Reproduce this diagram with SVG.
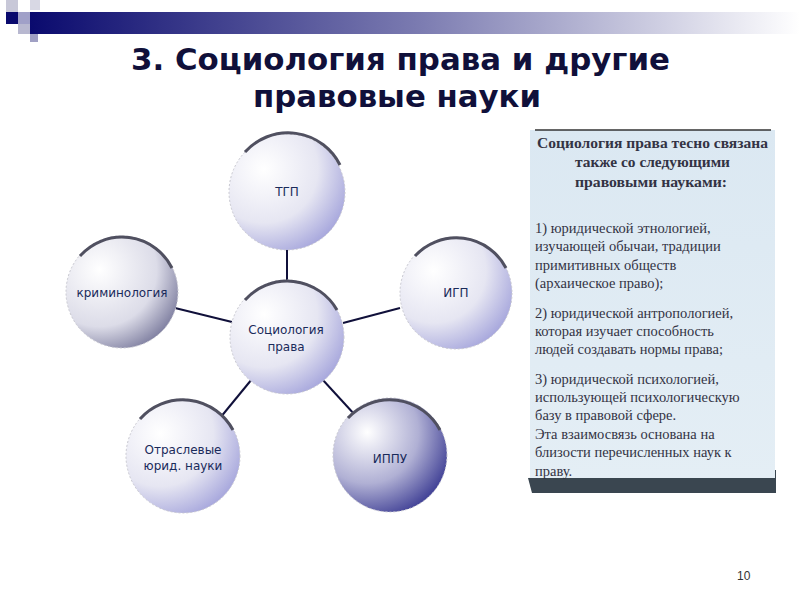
<svg xmlns="http://www.w3.org/2000/svg" width="800" height="600" viewBox="0 0 800 600">
<defs>
<linearGradient id="bar" x1="0" x2="1" y1="0" y2="0"><stop offset="0" stop-color="#0a0a6e"/><stop offset="0.5" stop-color="#7a7ab0"/><stop offset="1" stop-color="#ffffff"/></linearGradient>
<radialGradient id="ball" cx="0.3" cy="0.3" r="0.85"><stop offset="0" stop-color="#ffffff"/><stop offset="0.55" stop-color="#e6e6f2"/><stop offset="1" stop-color="#9a9ad8"/></radialGradient>
<radialGradient id="ballDark" cx="0.3" cy="0.3" r="0.9"><stop offset="0" stop-color="#ffffff"/><stop offset="0.5" stop-color="#b0b0d4"/><stop offset="1" stop-color="#1a1a80"/></radialGradient>
<radialGradient id="ballGrey" cx="0.3" cy="0.3" r="0.85"><stop offset="0" stop-color="#ffffff"/><stop offset="0.6" stop-color="#dcdce8"/><stop offset="1" stop-color="#6a6a90"/></radialGradient>
<linearGradient id="paper" x1="0" y1="0" x2="0" y2="1"><stop offset="0" stop-color="#dbe8f2"/><stop offset="1" stop-color="#e4eef5"/></linearGradient>
</defs>
<style>
.ball{stroke:#c8c8d0;stroke-width:1;stroke-dasharray:2 2}
.rim{fill:none;stroke:#505060;stroke-width:3}
.lbl{font-family:"DejaVu Sans",sans-serif;font-size:12px;fill:#1a2a5a;text-anchor:middle}
.conn line{stroke:#10103a;stroke-width:2}
.tx{font-family:"Liberation Serif",serif;font-size:14.5px;fill:#333344}
.ttl{font-family:"DejaVu Sans",sans-serif;font-weight:bold;font-size:30px;fill:#10103a}
</style>
<rect width="800" height="600" fill="#fff"/>
<rect x="30" y="12" width="770" height="22" fill="url(#bar)"/>
<rect x="6" y="0" width="12" height="12" fill="#c8c8d8"/>
<rect x="30" y="0" width="10" height="10" fill="#d8d8e4"/>
<rect x="6" y="12" width="12" height="12" fill="#0a0a6e"/>
<rect x="18" y="12" width="12" height="12" fill="#a0a0c8"/>
<rect x="18" y="24" width="12" height="10" fill="#b8b8d0"/>
<rect x="30" y="34" width="8" height="8" fill="#a0a0c4"/>
<text class="ttl" x="131" y="70" textLength="539" lengthAdjust="spacingAndGlyphs">3. Социология права и другие</text>
<text class="ttl" x="253" y="107" textLength="288" lengthAdjust="spacingAndGlyphs">правовые науки</text>
<g class="conn">
<line x1="287" y1="250" x2="287" y2="286"/>
<line x1="175" y1="308" x2="232" y2="322"/>
<line x1="343" y1="323" x2="400" y2="308"/>
<line x1="252" y1="379" x2="220" y2="418"/>
<line x1="322" y1="379" x2="355" y2="415"/>
</g>
<g id="tgp"><circle class="ball" cx="287" cy="192" r="58" fill="url(#ball)"/><path class="rim" d="M245,152 A58,58 0 0 1 340,165"/><text class="lbl" x="287" y="196">ТГП</text></g>
<g id="crim"><circle class="ball" cx="122" cy="292" r="56" fill="url(#ballGrey)"/><path class="rim" d="M80,256 A56,56 0 0 1 172,268"/><text class="lbl" x="122" y="297">криминология</text></g>
<g id="igp"><circle class="ball" cx="456" cy="293" r="56" fill="url(#ball)"/><path class="rim" d="M415,256 A56,56 0 0 1 506,268"/><text class="lbl" x="456" y="297">ИГП</text></g>
<g id="center"><circle class="ball" cx="287" cy="337" r="57" fill="url(#ball)"/><path class="rim" d="M245,300 A57,57 0 0 1 337,310" stroke-width="2"/><text class="lbl" x="286" y="334">Социология</text><text class="lbl" x="286" y="351">права</text></g>
<g id="otr"><circle class="ball" cx="183" cy="456" r="57" fill="url(#ball)"/><path class="rim" d="M140,419 A57,57 0 0 1 233,430"/><text class="lbl" x="183" y="454">Отраслевые</text><text class="lbl" x="183" y="470">юрид. науки</text></g>
<g id="ippu"><circle class="ball" cx="390" cy="455" r="57" fill="url(#ballDark)"/><path class="rim" d="M348,418 A57,57 0 0 1 440,430"/><text class="lbl" x="390" y="463">ИППУ</text></g>
<g id="textbox">
<polygon points="528,478 776,470 776,493 532,493" fill="#3a4650"/>
<rect x="530" y="130" width="245" height="348" fill="url(#paper)"/>
<line x1="535" y1="130" x2="771" y2="130" stroke="#333" stroke-width="1.5"/>
<g class="tx" font-weight="bold" fill="#223344">
<text x="537" y="148" textLength="231" lengthAdjust="spacingAndGlyphs">Социология права тесно связана</text>
<text x="575" y="167" textLength="155" lengthAdjust="spacingAndGlyphs">также со следующими</text>
<text x="575" y="187" textLength="152" lengthAdjust="spacingAndGlyphs">правовыми науками:</text>
</g>
<g class="tx">
<text x="535" y="233">1) юридической этнологией,</text>
<text x="535" y="251">изучающей обычаи, традиции</text>
<text x="535" y="270">примитивных обществ</text>
<text x="535" y="288">(архаическое право);</text>
<text x="535" y="318">2) юридической антропологией,</text>
<text x="535" y="336">которая изучает способность</text>
<text x="535" y="354">людей создавать нормы права;</text>
<text x="535" y="384">3) юридической психологией,</text>
<text x="535" y="402">использующей психологическую</text>
<text x="535" y="420">базу в правовой сфере.</text>
<text x="535" y="439"> Эта взаимосвязь основана на</text>
<text x="535" y="457">близости перечисленных наук к</text>
<text x="535" y="476">праву.</text>
</g>
</g>
<text x="737" y="580" font-family="Liberation Sans,sans-serif" font-size="12" fill="#333">10</text>
</svg>
